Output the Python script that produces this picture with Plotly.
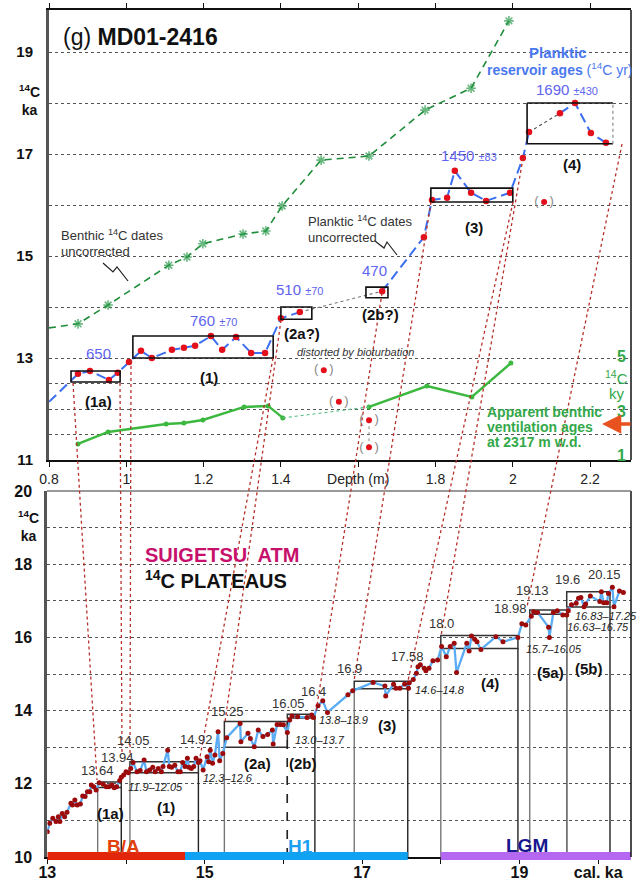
import plotly.graph_objects as go

FONT = "Liberation Sans, Arial, Helvetica, sans-serif"
W, H = 640, 885

# ---------------- Panel (g): MD01-2416, depth domain ----------------
benthic_depth = [0.800, 0.875, 0.953, 1.110, 1.157, 1.198, 1.302, 1.361, 1.403, 1.504, 1.628, 1.773, 1.892, 1.990]
benthic_age = [13.59, 13.67, 14.04, 14.82, 14.98, 15.24, 15.43, 15.49, 15.98, 16.88, 16.96, 17.86, 18.29, 19.61]

plank_depth = [0.800, 0.875, 0.906, 0.955, 0.978, 1.007, 1.038, 1.066, 1.118, 1.149, 1.178, 1.219, 1.248,
               1.284, 1.323, 1.359, 1.400, 1.449, 1.662, 1.770, 1.791, 1.830, 1.850, 1.892, 1.931, 1.993,
               2.026, 2.042, 2.122, 2.161, 2.202, 2.241]
plank_age = [12.14, 12.69, 12.745, 12.57, 12.71, 12.92, 13.14, 13.00, 13.16, 13.20, 13.24, 13.43, 13.16,
             13.41, 13.10, 13.10, 13.78, 13.90, 14.31, 15.37, 16.10, 16.14, 16.67, 16.24, 16.08, 16.24,
             16.92, 17.43, 17.80, 18.00, 17.41, 17.22]

iso_depth = [1.511, 1.550, 1.628, 1.628, 2.081]
iso_age = [12.76, 12.14, 11.78, 11.25, 16.06]

vent_depth = [0.875, 0.953, 1.103, 1.149, 1.198, 1.305, 1.367, 1.405, 1.628, 1.778, 1.894, 1.995]
vent_age = [1.63, 2.10, 2.41, 2.45, 2.57, 3.08, 3.12, 2.65, 3.08, 3.90, 3.47, 4.80]

top_box_names = ['(1a)', '(1)', '(2a?)', '(2b?)', '(3)', '(4)']
top_box_d0 = [0.857, 1.017, 1.400, 1.620, 1.788, 2.037]
top_box_d1 = [0.984, 1.380, 1.480, 1.677, 2.000, 2.259]
top_box_lo = [12.53, 13.00, 13.76, 14.18, 16.06, 17.20]
top_box_hi = [12.745, 13.43, 14.00, 14.39, 16.33, 18.00]

depth_ticks = [0.8, 1.0, 1.2, 1.4, 1.6, 1.8, 2.0, 2.2]
depth_ticktext = ['0.8', '1', '1.2', '1.4', 'Depth (m)', '1.8', '2', '2.2']
top_age_ticks = [11, 11.5, 12, 12.5, 13, 14, 15, 16, 17, 18, 19]
top_age_ticktext = ['11', ' ', ' ', ' ', '13', ' ', '15', ' ', '17', ' ', '19']

# ---------------- Suigetsu atmospheric 14C panel ----------------
cal_age = [13.00, 13.03, 13.07, 13.11, 13.14, 13.16, 13.19, 13.22, 13.25, 13.30, 13.32, 13.35, 13.38, 13.42,
           13.45, 13.48, 13.51, 13.54, 13.56, 13.59, 13.62,
           13.66, 13.71, 13.75, 13.78, 13.82, 13.85, 13.88, 13.92,
           13.94, 13.97, 14.00, 14.03, 14.06,
           14.09, 14.14, 14.18, 14.23, 14.26, 14.30, 14.34, 14.37, 14.41, 14.45, 14.47, 14.53, 14.55,
           14.58, 14.62, 14.66, 14.69, 14.72, 14.75, 14.78, 14.80, 14.83, 14.86, 14.89, 14.92,
           14.94, 14.98, 15.03, 15.05, 15.07, 15.10, 15.13, 15.17, 15.19, 15.23,
           15.28, 15.45, 15.46, 15.55, 15.58, 15.63, 15.68, 15.74, 15.80, 15.86, 15.87, 15.92, 15.96,
           16.00, 16.05,
           16.08, 16.11, 16.18, 16.30, 16.36, 16.38,
           16.44, 16.50, 16.56, 16.82, 16.88,
           17.14, 17.29, 17.30, 17.40, 17.43, 17.48, 17.54, 17.59,
           17.60, 17.65, 17.69, 17.71, 17.74, 17.79, 17.81, 17.85, 17.90, 17.96, 18.01,
           18.07, 18.12, 18.17, 18.20, 18.33, 18.36, 18.39, 18.43, 18.46, 18.51, 18.70, 18.79, 18.98,
           19.03, 19.08,
           19.15, 19.18, 19.23, 19.37, 19.38, 19.43, 19.48, 19.55, 19.60,
           19.62, 19.66, 19.72, 19.75, 19.78, 19.82, 19.84, 19.90, 20.02, 20.04, 20.07, 20.11, 20.13,
           20.18, 20.20, 20.27, 20.32]
c14_age = [10.69, 10.92, 11.06, 10.97, 11.10, 10.97, 11.19, 11.10, 11.22, 11.47, 11.42, 11.56, 11.42, 11.45,
           11.67, 11.65, 11.78, 11.78, 11.97, 11.92, 11.83,
           12.03, 11.99, 11.92, 11.92, 11.97, 11.89, 11.92, 12.09,
           12.18, 12.24, 12.33, 12.30, 12.42,
           12.58, 12.33, 12.36, 12.65, 12.33, 12.38, 12.45, 12.33, 12.42, 12.33, 12.47, 12.92, 12.47,
           12.45, 12.51, 12.33, 12.33, 12.58, 12.47, 12.70, 12.45, 12.42, 12.47, 12.70, 12.58,
           12.63, 12.38, 12.74, 12.60, 12.92, 12.56, 12.79, 13.42, 12.63, 12.83,
           13.26, 13.65, 13.15, 13.38, 13.24, 13.01, 13.47, 13.29, 13.35, 13.47, 13.09, 13.62, 13.62,
           13.61, 13.40,
           13.74, 13.85, 13.83, 13.81, 13.88, 13.81,
           14.13, 14.27, 13.95, 14.43, 14.54,
           14.77, 14.67, 14.40, 14.72, 14.61, 14.61, 14.73, 14.61,
           14.76, 14.85, 15.02, 15.20, 15.25, 15.16, 15.09, 15.16, 15.36, 15.38, 15.75,
           15.47, 15.75, 15.84, 15.04, 15.84, 15.63, 16.04, 15.95, 15.88, 15.67, 16.02, 15.88, 16.00,
           16.37, 16.34,
           16.58, 16.70, 16.68, 16.28, 16.00, 16.68, 16.73, 16.61, 16.61,
           16.73, 16.89, 16.93, 17.07, 17.09, 16.84, 16.91, 17.13, 16.98, 17.25, 16.95, 16.95, 17.20,
           17.37, 16.84, 17.27, 17.23]

plat_names = ['(1a)', '(1)', '(2a)', '(2b)', '(3)', '(4)', '(5a)', '(5b)']
plat_start = [13.64, 14.05, 15.25, 16.05, 16.90, 18.00, 19.13, 19.60]
plat_end = [13.94, 14.92, 16.05, 16.40, 17.58, 18.98, 19.60, 20.15]
plat_lo = [11.90, 12.30, 13.00, 13.80, 14.60, 15.70, 16.63, 16.83]
plat_hi = [12.05, 12.60, 13.70, 13.90, 14.80, 16.05, 16.75, 17.25]

period_names = ['B/A', 'H1', 'LGM']
period_start = [13.00, 14.75, 18.00]
period_end = [14.75, 17.58, 20.42]
period_colors = ['#e2260c', '#10a2f2', '#b468f2']

cal_ticks = [13, 14, 15, 16, 17, 18, 19, 20]
cal_ticktext = ['13', ' ', '15', ' ', '17', ' ', '19', 'cal. ka']
bot_age_ticks = [10, 11, 12, 13, 14, 15, 16, 17, 18, 19, 20]
bot_age_ticktext = ['10', ' ', '12', ' ', '14', ' ', '16', ' ', '18', ' ', '20']


def PX(x):
    return x / W


def PY(y):
    return 1 - y / H


BLUE = '#3c6ff0'
RED = '#e3101c'
DGREEN = '#1f8c3a'
LGREEN = '#3cb83f'
TXTBLUE = '#5e63f0'
GTXT = '#33a84a'

fig = go.Figure()


def sub(arr, idx):
    return [arr[i] for i in idx]


def seg_xy(xs, ys, segments):
    ox, oy = [], []
    for a, b in segments:
        ox += xs[a:b + 1] + [None]
        oy += ys[a:b + 1] + [None]
    return ox, oy


# benthic dates
fig.add_trace(go.Scatter(
    x=benthic_depth, y=benthic_age, mode='lines+markers', xaxis='x', yaxis='y',
    line=dict(color=DGREEN, width=1.6, dash='7px,5px'),
    marker=dict(symbol='asterisk-open', size=[0] + [8] * (len(benthic_depth) - 1),
                line=dict(color='#2a9a4a', width=1.6), color='#2a9a4a'),
    hoverinfo='skip'))

# planktic dashed
px_, py_ = seg_xy(plank_depth, plank_age, [(0, 17), (18, 27), (28, 31)])
fig.add_trace(go.Scatter(x=px_, y=py_, mode='lines', xaxis='x', yaxis='y',
                         line=dict(color=BLUE, width=2, dash='10px,5px'), hoverinfo='skip'))
fig.add_trace(go.Scatter(x=sub(plank_depth, [17, 18]), y=sub(plank_age, [17, 18]), mode='lines',
                         xaxis='x', yaxis='y', line=dict(color='#777', width=1.1, dash='dot'), hoverinfo='skip'))
fig.add_trace(go.Scatter(x=sub(plank_depth, [27, 28]), y=sub(plank_age, [27, 28]), mode='lines',
                         xaxis='x', yaxis='y', line=dict(color='#444', width=1.1, dash='dot'), hoverinfo='skip'))
fig.add_trace(go.Scatter(x=plank_depth[1:], y=plank_age[1:], mode='markers', xaxis='x', yaxis='y',
                         marker=dict(color=RED, size=6.5), hoverinfo='skip'))

# isolated dates
fig.add_trace(go.Scatter(x=iso_depth[2:4], y=iso_age[2:4], mode='lines', xaxis='x', yaxis='y',
                         line=dict(color='#888', width=1, dash='dot'), hoverinfo='skip'))
fig.add_trace(go.Scatter(x=iso_depth, y=iso_age, mode='markers+text', xaxis='x', yaxis='y',
                         text=['(\u00a0\u00a0\u00a0)'] * len(iso_depth), textposition='middle center',
                         textfont=dict(family=FONT, size=13, color='#888'),
                         marker=dict(color=RED, size=6), hoverinfo='skip'))

# ventilation ages (secondary axis)
vx, vy = seg_xy(vent_depth, vent_age, [(0, 7), (8, 11)])
fig.add_trace(go.Scatter(x=vx, y=vy, mode='lines+markers', xaxis='x', yaxis='y3',
                         line=dict(color=LGREEN, width=2.4), marker=dict(color=LGREEN, size=5),
                         hoverinfo='skip'))
fig.add_trace(go.Scatter(x=vent_depth[7:9], y=vent_age[7:9], mode='lines', xaxis='x', yaxis='y3',
                         line=dict(color='#5cc08a', width=1.2, dash='dot'), hoverinfo='skip'))

# Suigetsu curve
fig.add_trace(go.Scatter(x=cal_age, y=c14_age, mode='lines', xaxis='x2', yaxis='y2',
                         line=dict(color='#5aacf5', width=2.3), hoverinfo='skip'))
fig.add_trace(go.Scatter(x=cal_age, y=c14_age, mode='markers', xaxis='x2', yaxis='y2',
                         marker=dict(color='#9c0a0a', size=5), hoverinfo='skip'))

shapes = []


def pline(x0, y0, x1, y1, color, width=1.2, dash='solid', layer='above'):
    shapes.append(dict(type='line', xref='paper', yref='paper', x0=PX(x0), y0=PY(y0),
                       x1=PX(x1), y1=PY(y1), line=dict(color=color, width=width, dash=dash), layer=layer))


# top boxes
for i, nm in enumerate(top_box_names):
    if nm == '(4)':
        for (a, b, c, d) in [(top_box_d0[i], top_box_hi[i], top_box_d1[i], top_box_hi[i]),
                             (top_box_d0[i], top_box_lo[i], top_box_d1[i], top_box_lo[i]),
                             (top_box_d0[i], top_box_lo[i], top_box_d0[i], top_box_hi[i])]:
            shapes.append(dict(type='line', xref='x', yref='y', x0=a, y0=b, x1=c, y1=d,
                               line=dict(color='#111', width=1.6), layer='above'))
        shapes.append(dict(type='line', xref='x', yref='y', x0=top_box_d1[i], y0=top_box_lo[i],
                           x1=top_box_d1[i], y1=top_box_hi[i],
                           line=dict(color='#888', width=1.2, dash='dot'), layer='above'))
    else:
        shapes.append(dict(type='rect', xref='x', yref='y', x0=top_box_d0[i], x1=top_box_d1[i],
                           y0=top_box_lo[i], y1=top_box_hi[i], line=dict(color='#111', width=1.6),
                           layer='above'))

# bottom plateaus and their verticals
for i in range(len(plat_names)):
    shapes.append(dict(type='rect', xref='x2', yref='y2', x0=plat_start[i], x1=plat_end[i],
                       y0=plat_lo[i], y1=plat_hi[i], line=dict(color='#333', width=1.5), layer='between'))
    for xv, col in [(plat_start[i], '#777'), (plat_end[i], '#222')]:
        dash = 'dash' if abs(xv - 16.05) < 1e-6 else 'solid'
        shapes.append(dict(type='line', xref='x2', yref='y2', x0=xv, x1=xv, y0=10, y1=plat_lo[i],
                           line=dict(color='#222' if dash == 'dash' else col, width=1.4, dash=dash),
                           layer='between'))

# period bars
for i in range(len(period_names)):
    shapes.append(dict(type='rect', xref='x2', yref='paper', x0=period_start[i], x1=period_end[i],
                       y0=PY(860), y1=PY(852), fillcolor=period_colors[i], line=dict(width=0),
                       layer='above'))

# frame details
pline(631, 10, 631, 460, '#111', 1.5)
pline(631, 491, 631, 857, '#111', 1.5)
pline(47, 491, 631, 491, '#777', 1.6)

# connecting red dotted lines (core depth -> calendar age)
connectors = [(73, 383, 97, 780), (120, 383, 122, 752), (131, 360, 130, 757), (273, 358, 200, 757),
              (281, 320, 225, 722), (382, 293, 316, 712), (431, 202, 354, 681), (513, 202, 408, 681),
              (523, 158, 441, 636), (622, 144, 527, 607)]
for c in connectors:
    pline(*c, color='#b8302a', width=1.3, dash='dot')


# squiggle arrows
def squiggle(pts):
    d = 'M ' + ' L '.join(f'{PX(x):.5f},{PY(y):.5f}' for x, y in pts)
    shapes.append(dict(type='path', xref='paper', yref='paper', path=d,
                       line=dict(color='#222', width=1.2), layer='above'))


squiggle([(103, 263), (113, 272), (117, 267), (128, 281)])
squiggle([(375, 241), (384, 248), (387, 242), (397, 255)])

annotations = []


def ann(text, x, y, size=13, color='#222', bold=False, italic=False, xanchor='center', yanchor='middle'):
    annotations.append(dict(text=text, x=PX(x), y=PY(y), xref='paper', yref='paper', showarrow=False,
                            xanchor=xanchor, yanchor=yanchor,
                            font=dict(family=FONT, size=size, color=color,
                                      weight='bold' if bold else 'normal',
                                      style='italic' if italic else 'normal')))


ann('(g) <b>MD01-2416</b>', 61, 37, size=23, color='#111', xanchor='left')
ann('<b><sup>14</sup>C<br>ka</b>', 29, 100, size=14, color='#111')
ann('<b>Planktic</b>', 558, 52, size=15, color='#4a78ee')
ann('<b>reservoir ages</b> (<sup>14</sup>C yr)', 560, 69, size=14, color='#4a78ee')

sm = "<span style='font-size:11px'>"
ann('1690 ' + sm + '±430</span>', 567, 89, size=15, color=TXTBLUE)
ann('1450 ' + sm + '±83</span>', 469, 155, size=15, color=TXTBLUE)
ann('510 ' + sm + '±70</span>', 299, 289, size=15, color=TXTBLUE)
ann('470', 374, 270, size=15, color=TXTBLUE)
ann('760 ' + sm + '±70</span>', 213, 320, size=15, color=TXTBLUE)
ann('650', 98, 353, size=15, color=TXTBLUE)

for t, x, y in [('(1a)', 98, 402), ('(1)', 209, 377), ('(2a?)', 302, 333), ('(2b?)', 380, 315),
                ('(3)', 474, 227), ('(4)', 572, 164)]:
    ann(t, x, y, size=15, color='#111', bold=True)

ann('Benthic <sup>14</sup>C dates', 59, 235, size=13, color='#333', xanchor='left')
ann('uncorrected', 59, 251, size=13, color='#333', xanchor='left')
ann('Planktic <sup>14</sup>C dates', 306, 221, size=13, color='#333', xanchor='left')
ann('uncorrected', 306, 237, size=13, color='#333', xanchor='left')
ann('distorted by bioturbation', 355, 352, size=11, color='#333', italic=True)

ann('5', 621, 356, size=16, color=GTXT, bold=True)
ann('<sup>14</sup>C', 616, 377, size=15, color=GTXT)
ann('ky', 617, 393, size=15, color=GTXT)
ann('3', 621, 411, size=16, color=GTXT, bold=True)
ann('1', 621, 455, size=16, color=GTXT, bold=True)
ann('Apparent benthic', 485, 412, size=14, color=GTXT, bold=True, xanchor='left')
ann('ventilation ages', 485, 427, size=14, color=GTXT, bold=True, xanchor='left')
ann('at 2317 m w.d.', 485, 442, size=14, color=GTXT, bold=True, xanchor='left')

annotations.append(dict(x=PX(602), y=PY(424), xref='paper', yref='paper', ax=30, ay=0, text='',
                        showarrow=True, arrowhead=2, arrowsize=1.1, arrowwidth=3.5, arrowcolor='#e8521f'))

# bottom panel texts
ann('SUIGETSU  ATM', 143, 555, size=20, color='#c7106c', bold=True, xanchor='left')
ann('<sup>14</sup>C PLATEAUS', 143, 579, size=20, color='#111', bold=True, xanchor='left')
ann('<b><sup>14</sup>C<br>ka</b>', 28, 526, size=14, color='#111')

for t, x, y in [('13.64', 97, 770), ('13.94', 117, 757), ('14.05', 133, 740), ('14.92', 196, 739),
                ('15.25', 227, 711), ('16.05', 288, 703), ('16.4', 313, 691), ('16.9', 349, 668),
                ('17.58', 407, 656), ('18.0', 441, 623), ('18.98', 510, 608), ('19.13', 532, 590),
                ('19.6', 567, 579), ('20.15', 604, 574)]:
    ann(t, x, y, size=13, color='#333')

for t, x, y in [('11.9–12.05', 126, 787), ('12.3–12.6', 201, 778), ('13.0–13.7', 293, 740),
                ('13.8–13.9', 317, 720), ('14.6–14.8', 413, 690), ('15.7–16.05', 524, 649),
                ('16.63–16.75', 565, 627)]:
    ann(t, x, y, size=11, color='#222', italic=True, xanchor='left')
ann('16.83–17.25', 639, 616, size=11, color='#222', italic=True, xanchor='right')

for t, x, y in [('(1a)', 110, 813), ('(1)', 166, 807), ('(2a)', 257, 763), ('(2b)', 303, 763),
                ('(3)', 387, 725), ('(4)', 490, 683), ('(5a)', 550, 672), ('(5b)', 589, 668)]:
    ann(t, x, y, size=15, color='#111', bold=True)

ann('B/A', 123, 846, size=19, color='#e2400c', bold=True)
ann('H1', 300, 846, size=19, color='#1aa0f0', bold=True)
ann('LGM', 527, 845, size=19, color='#16168f', bold=True)

fig.update_layout(
    template='none',
    width=W, height=H, margin=dict(l=0, r=0, t=0, b=0, pad=0, autoexpand=False),
    paper_bgcolor='white', plot_bgcolor='white', showlegend=False,
    shapes=shapes, annotations=annotations,
    xaxis=dict(domain=[PX(49), PX(631)], range=[0.8, 0.8 + 582 / 386.5], anchor='y', automargin=False,
               tickvals=depth_ticks, ticktext=depth_ticktext, ticks='outside', ticklen=5,
               tickcolor='#111', mirror='ticks', showline=True, linecolor='#111', linewidth=1.5,
               showgrid=False, zeroline=False, ticklabelstandoff=0,
               tickfont=dict(family=FONT, size=14, color='#222')),
    yaxis=dict(domain=[PY(460), PY(10)], range=[11, 11 + 450 / 51], anchor='x', automargin=False,
               tickvals=top_age_ticks, ticktext=top_age_ticktext, ticks='', showline=True,
               linecolor='#555', linewidth=3, showgrid=True, gridcolor='#555', griddash='dot',
               gridwidth=1, zeroline=False, ticklabelstandoff=10,
               tickfont=dict(family=FONT, size=15, color='#111', weight='bold')),
    yaxis3=dict(overlaying='y', range=[1, 1 + 2 * 450 / 51], visible=False, anchor='x', side='right',
                automargin=False),
    xaxis2=dict(domain=[PX(47.3), PX(631)], range=[13, 13 + (631 - 47.3) / 78.7], anchor='y2',
                automargin=False,
                tickvals=cal_ticks, ticktext=cal_ticktext, ticks='outside', ticklen=5, tickcolor='#111',
                showline=True, linecolor='#111', linewidth=1.5, showgrid=False, zeroline=False,
                ticklabelstandoff=-5,
                tickfont=dict(family=FONT, size=16, color='#111', weight='bold')),
    yaxis2=dict(domain=[PY(857), PY(491)], range=[10, 20], anchor='x2', automargin=False,
                tickvals=bot_age_ticks, ticktext=bot_age_ticktext, ticks='', showline=True,
                linecolor='#555', linewidth=3, showgrid=True, gridcolor='#555', griddash='dot',
                gridwidth=1, zeroline=False, ticklabelstandoff=9,
                tickfont=dict(family=FONT, size=16, color='#111', weight='bold')),
)

fig.write_html('out.html', config={'displayModeBar': False},
               post_script="document.body.style.margin='0px';document.body.style.overflow='hidden';")
